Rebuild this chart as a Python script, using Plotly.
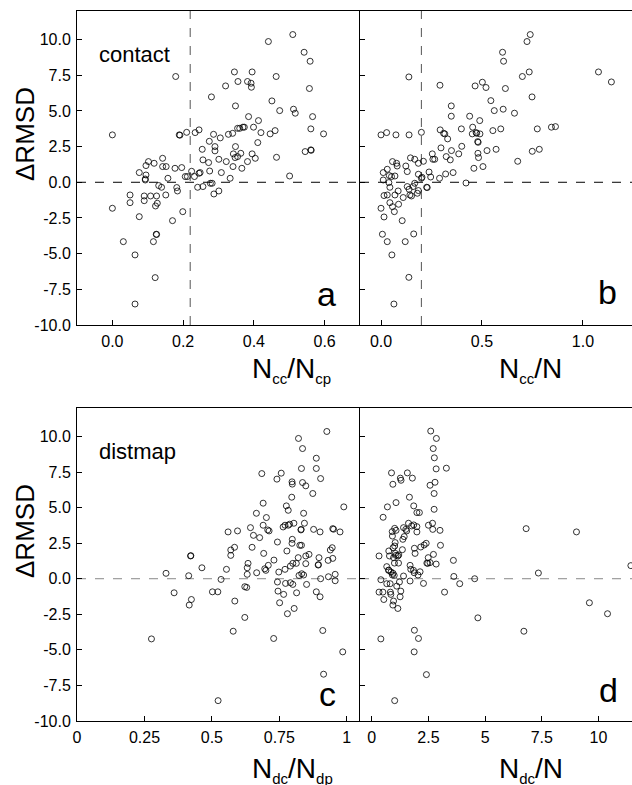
import plotly.graph_objects as go

# ---------------- data ----------------
# panel a: N_cc/N_cp vs dRMSD
a_x = [0.0, 0.0, 0.031, 0.064, 0.064, 0.05, 0.05, 0.076, 0.076, 0.095, 0.102, 0.095, 0.093, 0.093,
       0.09, 0.09, 0.108, 0.118, 0.125, 0.127, 0.122, 0.142, 0.142, 0.152, 0.131, 0.139, 0.151, 0.157,
       0.124, 0.125, 0.116, 0.121, 0.17, 0.179, 0.177, 0.196, 0.182, 0.184, 0.189, 0.191, 0.199, 0.21,
       0.206, 0.212, 0.224, 0.232, 0.234, 0.245, 0.241, 0.245, 0.248, 0.254, 0.256, 0.256, 0.28, 0.274,
       0.272, 0.275, 0.277, 0.286, 0.29, 0.29, 0.287, 0.282, 0.301, 0.305, 0.301, 0.308, 0.32, 0.322,
       0.328, 0.333, 0.34, 0.342, 0.341, 0.345, 0.348, 0.348, 0.354, 0.355, 0.354, 0.347, 0.36, 0.363,
       0.366, 0.369, 0.373, 0.382, 0.392, 0.395, 0.393, 0.385, 0.382, 0.399, 0.395, 0.404, 0.413, 0.411,
       0.42, 0.441, 0.446, 0.451, 0.46, 0.463, 0.464, 0.473, 0.501, 0.51, 0.512, 0.517, 0.542, 0.559,
       0.557, 0.561, 0.566, 0.545, 0.561, 0.562, 0.597]
a_y = [3.32, -1.82, -4.16, -5.09, -8.53, -0.89, -1.43, -2.41, 0.68, 1.17, 1.45, 0.51, 0.23, 0.16,
       -0.96, -1.29, -0.96, 1.33, -0.96, -1.47, -1.66, 1.68, 1.10, 1.10, -0.23, -0.35, -0.89, 0.28,
       -3.64, -3.66, -4.16, -6.68, -2.69, 7.41, 0.98, 1.03, -0.37, -0.61, 3.32, 3.30, -2.06, 3.50,
       0.40, 0.40, 0.77, 0.40, 3.48, 3.67, -0.35, 0.63, 0.68, 2.31, 1.57, -0.30, 5.98, 2.87,
       1.38, 0.79, -0.07, 3.36, 2.50, 2.20, -0.82, -0.07, -0.61, 3.11, 1.61, 0.68, 6.75, 1.45,
       3.36, 0.28, 3.43, 1.99, 1.10, 7.73, 5.35, 2.50, 1.80, 7.06, 3.78, 1.73, 3.78, 2.03,
       0.98, 3.86, 3.86, 7.06, 6.94, 7.73, 6.66, 4.60, 1.45, 3.86, 1.99, 1.68, 4.32, 2.78,
       3.48, 9.86, 3.39, 5.70, 3.62, 7.41, 1.75, 5.02, 0.44, 10.35, 5.12, 4.84, 9.11, 8.48,
       6.57, 3.74, 4.60, 2.15, 2.27, 2.24, 3.39]

# panel b: N_cc/N vs dRMSD
b_x = [0.0, 0.028, 0.074, 0.139, 0.2, 0.138, 0.292, 0.0, 0.015, 0.007, 0.031, 0.054, 0.138, 0.064,
       0.105, 0.12, 0.162, 0.011, 0.031, 0.041, 0.052, 0.057, 0.077, 0.08, 0.069, 0.039, 0.044, 0.015,
       0.031, 0.044, 0.057, 0.066, 0.087, 0.069, 0.085, 0.11, 0.123, 0.13, 0.146, 0.167, 0.185, 0.21,
       0.13, 0.139, 0.143, 0.151, 0.159, 0.167, 0.18, 0.185, 0.185, 0.2, 0.203, 0.226, 0.229, 0.238,
       0.246, 0.254, 0.257, 0.266, 0.29, 0.297, 0.293, 0.31, 0.316, 0.33, 0.32, 0.323, 0.343, 0.349,
       0.348, 0.348, 0.357, 0.385, 0.398, 0.4, 0.421, 0.439, 0.454, 0.452, 0.46, 0.466, 0.471, 0.474,
       0.479, 0.481, 0.48, 0.483, 0.489, 0.49, 0.502, 0.52, 0.505, 0.525, 0.544, 0.554, 0.561, 0.57,
       0.593, 0.602, 0.607, 0.605, 0.616, 0.661, 0.677, 0.7, 0.723, 0.739, 0.734, 0.748, 0.749, 0.774,
       0.784, 0.844, 0.864, 1.077, 1.141, 0.011]
b_y = [3.32, 3.48, 3.32, 3.32, 3.50, 7.38, 6.80, -1.82, -2.43, -3.64, -4.16, -5.09, -6.66, -8.53,
       -2.69, -4.16, -3.62, 0.68, 0.91, 0.47, 0.40, 1.45, 1.33, 1.14, 0.44, -0.02, -0.35, -0.93,
       -0.89, -1.43, -1.71, -2.06, -1.54, -0.89, -0.61, -1.07, 1.14, 0.75, 1.71, 1.61, 1.33, 1.47,
       -0.30, -0.49, -0.89, -0.96, -0.30, -0.07, -0.77, -0.58, 0.56, 0.28, 0.35, -0.35, -0.37, 0.72,
       0.37, 1.99, 1.61, 1.61, 0.28, 2.41, 3.67, 3.43, 3.39, 3.04, 0.58, 1.80, 1.57, 2.22,
       5.35, 4.63, 0.68, 1.99, 3.74, 2.52, -0.05, 4.63, 3.86, 3.39, 0.98, 6.75, 3.48, 3.43,
       2.85, 2.80, 2.03, 1.73, 4.32, 3.39, 7.01, 6.64, 1.10, 2.22, 5.72, 3.62, 5.02, 2.31,
       3.74, 9.11, 8.48, 5.12, 6.57, 4.84, 1.47, 7.41, 9.86, 10.35, 7.73, 5.98, 2.17, 3.74,
       2.31, 3.86, 3.90, 7.73, 7.03, 0.16]

# panel c: N_dc/N_dp vs dRMSD
c_x = [0.276, 0.33, 0.36, 0.414, 0.416, 0.424, 0.421, 0.422, 0.463, 0.502, 0.522, 0.523, 0.534, 0.554,
       0.56, 0.57, 0.57, 0.584, 0.595, 0.579, 0.585, 0.622, 0.622, 0.629, 0.631, 0.634, 0.631, 0.643,
       0.649, 0.654, 0.665, 0.666, 0.677, 0.685, 0.69, 0.69, 0.692, 0.696, 0.7, 0.702, 0.707, 0.712,
       0.709, 0.73, 0.729, 0.741, 0.757, 0.743, 0.748, 0.743, 0.745, 0.751, 0.766, 0.764, 0.771, 0.771,
       0.776, 0.783, 0.778, 0.78, 0.773, 0.783, 0.788, 0.791, 0.791, 0.796, 0.797, 0.798, 0.798, 0.797,
       0.8, 0.804, 0.8, 0.805, 0.813, 0.814, 0.821, 0.823, 0.82, 0.826, 0.832, 0.83, 0.832, 0.831,
       0.836, 0.836, 0.84, 0.833, 0.84, 0.843, 0.848, 0.848, 0.848, 0.851, 0.86, 0.874, 0.877, 0.887,
       0.887, 0.887, 0.894, 0.895, 0.897, 0.901, 0.901, 0.903, 0.903, 0.911, 0.914, 0.926, 0.932, 0.931,
       0.939, 0.946, 0.948, 0.948, 0.951, 0.957, 0.957, 0.975, 0.985, 0.989]
c_y = [-4.23, 0.38, -0.99, 0.21, -1.85, -1.46, 1.60, 1.62, 0.77, -0.92, -0.92, -8.57, -0.05, 0.66,
       3.29, 2.02, 1.64, 2.21, 3.36, -3.69, -1.57, -2.72, -0.56, -0.61, 0.77, 1.08, 0.31, 3.59,
       2.21, 3.05, 4.60, 0.42, 2.89, 7.39, 5.31, 3.76, 1.78, 0.70, 0.59, 4.30, 3.43, 3.36,
       0.94, 1.31, -4.20, 7.00, 7.42, 2.58, 0.47, -0.23, -0.87, -1.69, -1.10, 3.64, 3.76, 0.66,
       5.12, 4.81, 1.95, -2.46, -0.33, 3.76, 3.83, 0.89, -0.28, 5.73, 6.81, 6.65, 2.77, 2.49,
       -0.40, 3.90, 1.08, -2.09, 1.08, -0.99, 9.86, 0.23, 1.48, 2.35, 2.35, 3.43, 7.75, 3.47,
       9.15, 6.76, 4.60, 0.35, 0.26, 3.90, 6.53, 1.60, 1.06, -0.40, 1.71, 5.99, 3.47, 8.47,
       7.75, -0.92, 0.96, 0.99, 1.48, 3.29, -1.27, 7.04, 0.0, -3.64, -6.71, 10.35, 0.14, 1.29,
       2.02, 2.18, 1.43, 3.52, 3.48, 0.31, -0.14, 3.29, -5.14, 5.05]

# panel d: N_dc/N vs dRMSD
d_x = [2.6, 2.85, 2.71, 2.76, 2.84, 3.29, 0.87, 1.57, 1.26, 1.29, 1.79, 0.93, 2.79, 2.57,
       2.75, 1.66, 1.07, 0.69, 1.85, 1.99, 2.1, 2.75, 0.5, 1.62, 1.76, 1.85, 1.99, 2.5,
       2.68, 2.69, 3.01, 1.01, 0.9, 1.07, 1.4, 1.5, 1.54, 1.99, 1.43, 1.37, 0.91, 1.03,
       0.94, 1.35, 1.88, 1.91, 2.16, 2.31, 2.4, 3.03, 0.32, 0.75, 0.78, 0.96, 1.04, 1.15,
       1.19, 1.0, 1.18, 0.66, 0.75, 0.85, 0.94, 0.91, 0.99, 1.4, 1.69, 1.72, 1.69, 1.84,
       1.87, 2.13, 2.04, 2.49, 2.57, 2.72, 2.84, 2.47, 2.43, 3.6, 3.62, 3.88, 3.21, 4.54,
       4.68, 6.81, 7.35, 9.03, 9.6, 10.4, 11.43, 6.71, 0.4, 0.32, 0.49, 0.53, 0.66, 0.81,
       0.82, 0.84, 0.96, 0.93, 1.15, 1.22, 1.28, 1.25, 1.1, 2.28, 0.4, 1.88, 2.06, 1.87,
       2.41, 1.01, 0.74, 1.07, 1.01]
d_y = [10.38, 9.86, 9.15, 8.50, 7.72, 7.77, 7.44, 7.44, 7.07, 6.92, 7.07, 6.64, 6.78, 6.57,
       5.99, 5.73, 5.35, 5.05, 5.12, 4.65, 4.65, 4.88, 4.32, 3.90, 3.71, 3.78, 3.66, 3.76,
       3.90, 3.47, 3.40, 3.54, 3.31, 3.40, 3.59, 3.47, 3.36, 3.29, 2.96, 2.77, 3.00, 2.54,
       2.18, 2.04, 2.14, 1.78, 2.23, 2.37, 2.49, 2.35, 1.60, 1.95, 1.60, 1.48, 1.78, 1.60,
       1.67, 1.10, 1.10, 0.85, 0.61, 0.47, 0.38, 0.26, 0.23, 0.19, 0.94, 0.66, -0.16, 0.59,
       0.42, 0.49, 0.26, 1.48, 1.13, 1.71, 1.03, 1.08, 1.10, 1.29, 0.16, -0.35, -0.94, 0.0,
       -2.75, 3.52, 0.40, 3.29, -1.69, -2.46, 0.92, -3.69, -0.07, -0.94, -0.94, -1.46, -0.35, -0.35,
       -0.94, -1.10, -1.57, -1.85, -2.09, -0.23, -0.87, -1.27, -0.52, -0.33, -4.23, -3.62, -4.20, -5.14,
       -6.74, -8.57, 0.59, 1.64, 2.30]

y_ticks = [-10, -7.5, -5, -2.5, 0, 2.5, 5, 7.5, 10]
y_ticktext = ["-10.0", "-7.5", "-5.0", "-2.5", "0.0", "2.5", "5.0", "7.5", "10.0"]
a_ticks = [0, 0.2, 0.4, 0.6]
a_ticktext = ["0.0", "0.2", "0.4", "0.6"]
b_ticks = [0, 0.5, 1.0]
b_ticktext = ["0.0", "0.5", "1.0"]
c_ticks = [0, 0.25, 0.5, 0.75, 1]
c_ticktext = ["0", "0.25", "0.5", "0.75", "1"]
d_ticks = [0, 2.5, 5, 7.5, 10]
d_ticktext = ["0", "2.5", "5", "7.5", "10"]

a_cut = 0.22
b_cut = 0.2

# ---------------- figure ----------------
W, H = 632, 785
FONT = "Arial, Liberation Sans, sans-serif"

def px(xp):
    return xp / W

def py(yp):
    return 1 - yp / H

fig = go.Figure()
marker = dict(symbol="circle-open", size=6, color="black", line=dict(width=0.8, color="black"))
for xs, ys, i in [(a_x, a_y, ""), (b_x, b_y, "2"), (c_x, c_y, "3"), (d_x, d_y, "4")]:
    fig.add_trace(go.Scatter(x=xs, y=ys, mode="markers", marker=marker,
                             xaxis="x" + i, yaxis="y" + i, hoverinfo="skip"))

common = dict(showline=True, linecolor="black", linewidth=1, ticks="inside", ticklen=5,
              tickcolor="black", tickwidth=1, showgrid=False, zeroline=False, automargin=False,
              tickfont=dict(family=FONT, size=16, color="black"))

top_dom = [py(325), py(11)]
bot_dom = [py(721), py(408)]
left_dom = [px(77), px(360)]
right_dom = [px(360), 1.0]

fig.update_layout(
    width=W, height=H, margin=dict(l=0, r=0, t=0, b=0, autoexpand=False),
    plot_bgcolor="white", paper_bgcolor="white", showlegend=False,
    xaxis=dict(common, domain=left_dom, range=[-0.1, 0.7], tickvals=a_ticks, ticktext=a_ticktext,
               anchor="y", mirror=True, ticklabelstandoff=2),
    yaxis=dict(common, domain=top_dom, range=[-10, 12], tickvals=y_ticks, ticktext=y_ticktext,
               anchor="x", ticklabelstandoff=2),
    xaxis2=dict(common, domain=right_dom, range=[-0.104, 1.243], tickvals=b_ticks, ticktext=b_ticktext,
                anchor="y2", mirror=True, ticklabelstandoff=2),
    yaxis2=dict(common, domain=top_dom, range=[-10, 12], tickvals=y_ticks, showticklabels=False,
                anchor="x2", linewidth=1.3),
    xaxis3=dict(common, domain=left_dom, range=[0, 1.049], tickvals=c_ticks, ticktext=c_ticktext,
                anchor="y3", mirror=True, ticklabelstandoff=2),
    yaxis3=dict(common, domain=bot_dom, range=[-10, 12], tickvals=y_ticks, ticktext=y_ticktext,
                anchor="x3", ticklabelstandoff=2),
    xaxis4=dict(common, domain=right_dom, range=[-0.52, 11.48], tickvals=d_ticks, ticktext=d_ticktext,
                anchor="y4", mirror=True, ticklabelstandoff=2),
    yaxis4=dict(common, domain=bot_dom, range=[-10, 12], tickvals=y_ticks, showticklabels=False,
                anchor="x4", linewidth=1.3),
)

# reference lines
shapes = []
for i, col in [("", "black"), ("2", "black"), ("3", "#888888"), ("4", "#888888")]:
    shapes.append(dict(type="line", xref=("x" + i) + " domain", yref="y" + i, x0=0, x1=1, y0=0, y1=0,
                       line=dict(color=col, width=1, dash="dash"), layer="below"))
shapes.append(dict(type="line", xref="x", yref="y domain", x0=a_cut, x1=a_cut, y0=0, y1=1,
                   line=dict(color="#555555", width=1, dash="dash"), layer="below"))
shapes.append(dict(type="line", xref="x2", yref="y2 domain", x0=b_cut, x1=b_cut, y0=0, y1=1,
                   line=dict(color="#555555", width=1, dash="dash"), layer="below"))
fig.update_layout(shapes=shapes)

ann = []
def text(x, y, t, size, xanchor="center", yanchor="middle", angle=0):
    ann.append(dict(x=x, y=y, xref="paper", yref="paper", text=t, showarrow=False,
                    xanchor=xanchor, yanchor=yanchor, textangle=angle,
                    font=dict(family=FONT, size=size, color="black")))

def ntitle(a, b):
    s = "<span style='font-size:15px'>"
    t = "N<sub>" + s + a + "</span></sub>/N"
    if b:
        t += "<sub>" + s + b + "</span></sub>"
    return t

text(px(25), py(134), "ΔRMSD", 26, angle=-90)
text(px(25), py(531), "ΔRMSD", 26, angle=-90)
text(px(250), py(351), ntitle("cc", "cp"), 28, xanchor="left", yanchor="top")
text(px(497), py(351), ntitle("cc", ""), 28, xanchor="left", yanchor="top")
text(px(250), py(751), ntitle("dc", "dp"), 28, xanchor="left", yanchor="top")
text(px(497), py(751), ntitle("dc", ""), 28, xanchor="left", yanchor="top")
text(px(134), py(55), "contact", 22)
text(px(137), py(451), "distmap", 22)
text(px(338), py(294), "a", 34, xanchor="right")
text(px(619), py(292), "b", 34, xanchor="right")
text(px(338), py(694), "c", 34, xanchor="right")
text(px(620), py(690), "d", 34, xanchor="right")
fig.update_layout(annotations=ann)

fig.write_html("out.html", config={"displayModeBar": False},
               post_script="document.body.style.margin='0px';document.body.style.padding='0px';")
